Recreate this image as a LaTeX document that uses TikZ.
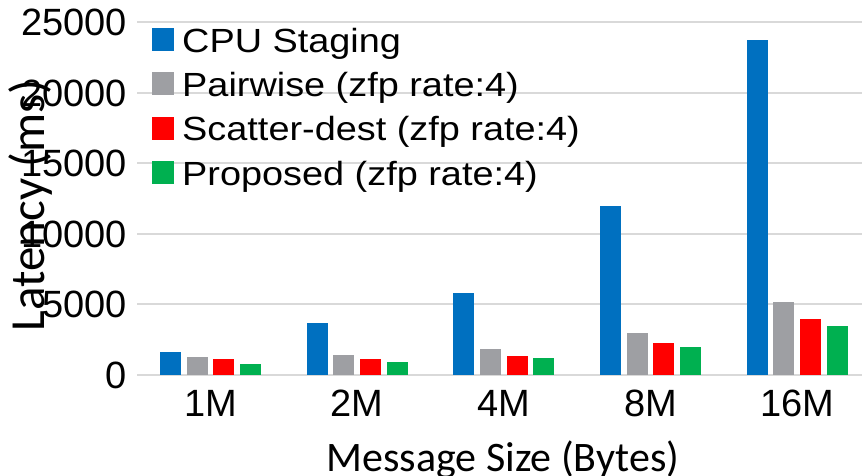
\documentclass[tikz,border=0pt]{standalone}
\usepackage{fontspec}
\setmainfont{Liberation Sans}
\newfontfamily\titlefont{Carlito}
\definecolor{cpublue}{HTML}{0070C0}
\definecolor{pairgray}{HTML}{9E9FA3}
\definecolor{scatred}{HTML}{FF0000}
\definecolor{propgreen}{HTML}{00B050}
\definecolor{gridgray}{HTML}{D9D9D9}
\begin{document}
\begin{tikzpicture}[x=1pt,y=-1pt,
  gridline/.style={draw=gridgray,line width=2pt},
  ticklabel/.style={inner sep=0pt,font=\fontsize{38}{38}\selectfont},
  legendtext/.style={inner sep=0pt,anchor=base west,xscale=1.13,font=\fontsize{33.5}{33.5}\selectfont},
  axistitle/.style={inner sep=0pt,font=\titlefont\fontsize{42}{42}\selectfont}]
\useasboundingbox[fill=white] (0,0) rectangle (862,476);
% value axis (values in thousands): gridlines and labels
\foreach \v/\txt in {0/0,5/5000,10/10000,15/15000,20/20000,25/25000}{
  \draw[gridline] (137,{374.5-\v*14.08}) -- (862,{374.5-\v*14.08});
  \node[ticklabel,anchor=base east] (ytick\v) at (127,{374.5-\v*14.08+13.5}) {\txt};
}
% bars: one group per message size, heights in thousands
\foreach \g/\lab/\a/\b/\c/\d in {0/1M/1.60/1.24/1.08/0.745,1/2M/3.66/1.385/1.10/0.89,2/4M/5.79/1.81/1.31/1.17,3/8M/11.97/2.95/2.24/1.95,4/16M/23.76/5.15/3.94/3.44}{
  \pgfmathsetmacro{\xl}{160+\g*146.7}
  \fill[cpublue]   (\xl,374.5) rectangle ++(21,{-\a*14.08});
  \fill[pairgray]  (\xl+26.6,374.5) rectangle ++(21,{-\b*14.08});
  \fill[scatred]   (\xl+53.2,374.5) rectangle ++(21,{-\c*14.08});
  \fill[propgreen] (\xl+79.8,374.5) rectangle ++(21,{-\d*14.08});
  \node[ticklabel,anchor=base] (xtick\g) at (\xl+50.5,416.5) {\lab};
}
% legend
\foreach \k/\col/\txt in {0/cpublue/CPU Staging,1/pairgray/Pairwise (zfp rate:4),2/scatred/Scatter-dest (zfp rate:4),3/propgreen/Proposed (zfp rate:4)}{
  \fill[\col] (152,{28+\k*44.3}) rectangle ++(22,23);
  \node[legendtext] (leg\k) at (182,{52.3+\k*44.3}) {\txt};
}
% axis titles
\node[axistitle,anchor=base] (xtitle) at (503,471) {Message Size (Bytes)};
\node[axistitle,font=\titlefont\fontsize{49}{49}\selectfont,rotate=90,anchor=base] (ytitle) at (44,205.5) {Latency (ms)};
\end{tikzpicture}
\end{document}
